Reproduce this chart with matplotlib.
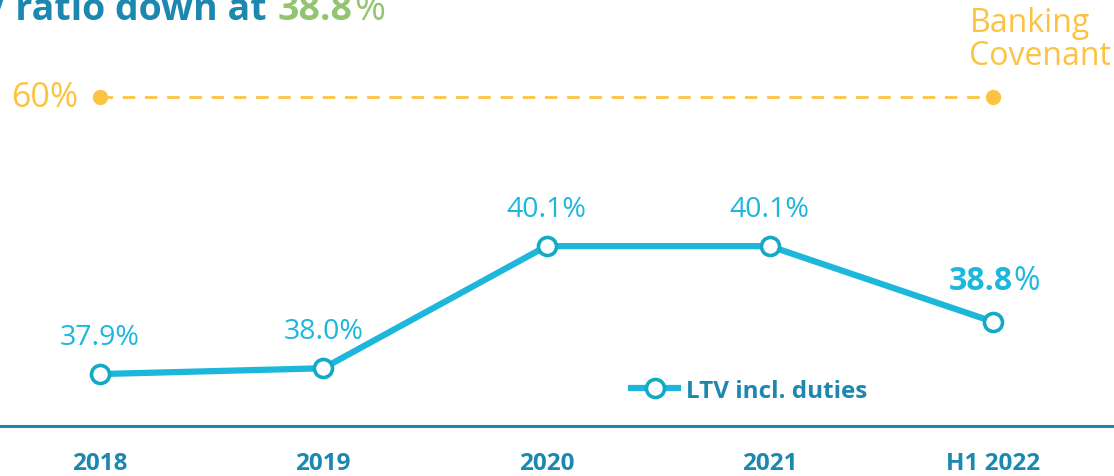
import matplotlib
matplotlib.use("Agg")
import matplotlib.pyplot as plt

plt.rcParams['font.family'] = ['Open Sans', 'DejaVu Sans']

# data
periods = ["2018", "2019", "2020", "2021", "H1 2022"]
ltv = [37.9, 38.0, 40.1, 40.1, 38.8]
covenant_x = [0, 4]
covenant = [60, 60]

BLUE = "#1C88B0"
CYAN = "#1DB7DC"
EDGE = "#14AAC6"
GREEN = "#93C470"
YELLOW = "#FCC343"

W, H = 1114, 477
fig = plt.figure(figsize=(W / 100, H / 100), dpi=100)
ax = fig.add_axes([0, 50 / H, 1, 427 / H])

x = list(range(len(periods)))
ax.plot(x, ltv, color=CYAN, lw=4.5, marker="o", ms=13, mfc="white",
        mec=EDGE, mew=2.6, solid_capstyle="butt", label="LTV incl. duties", zorder=3)

ax.set_xlim(-0.448, 4.542)
ax.set_ylim(37.007, 44.35)

for s in ["left", "right", "top"]:
    ax.spines[s].set_visible(False)
ax.spines["bottom"].set_color(BLUE)
ax.spines["bottom"].set_linewidth(2.2)
ax.set_yticks([])
ax.set_xticks(x)
ax.set_xticklabels(periods, fontsize=17.5, fontweight="bold", color=BLUE)
ax.tick_params(axis="x", length=0, pad=18)

# value labels
for xi, v in zip(x[:-1], ltv[:-1]):
    ax.annotate(f"{v:.1f}%", (xi, v), xytext=(0, 27), textcoords="offset points",
                ha="center", va="center", fontsize=20.5, color=CYAN)
ax.annotate(f"{ltv[-1]:.1f}", (x[-1], ltv[-1]), xytext=(14.5, 29.5), textcoords="offset points",
            ha="right", va="center", fontsize=23, fontweight="bold", color=CYAN)
ax.annotate("%", (x[-1], ltv[-1]), xytext=(15, 29.5), textcoords="offset points",
            ha="left", va="center", fontsize=23, color=CYAN)

# banking covenant line
ax2 = ax.twinx()
ax2.set_ylim(0, 60 * 427 / 329)
ax2.set_xlim(ax.get_xlim())
ax2.axis("off")
ax2.plot(covenant_x, covenant, color=YELLOW, lw=2, dashes=(4.5, 3.5))
ax2.plot(covenant_x, covenant, "o", color=YELLOW, ms=10, lw=0)
ax2.annotate("60%", (covenant_x[0], covenant[0]), xytext=(-16, 0), textcoords="offset points",
             ha="right", va="center", fontsize=24.5, color=YELLOW)
ax2.annotate("Banking\nCovenant", (covenant_x[1], covenant[1]), xytext=(-17, 42),
             textcoords="offset points", ha="left", va="center", fontsize=23,
             color=YELLOW, linespacing=1.0)

leg = ax.legend(loc="center left", bbox_to_anchor=(628 / W, 1 - 392 / H),
                bbox_transform=fig.transFigure, frameon=False, borderpad=0,
                borderaxespad=0, handlelength=2.2, handletextpad=0.2,
                prop={"size": 17.5, "weight": "bold"})
for t in leg.get_texts():
    t.set_color(BLUE)

# title (cut at the top-left like the reference)
yb = 1 - 20 / H
fig.text(276 / W, yb, "LTV ratio down at ", ha="right", va="baseline",
         fontsize=27, fontweight="bold", color=BLUE)
num = fig.text(278 / W, yb, "38.8", ha="left", va="baseline",
               fontsize=27, fontweight="bold", color=GREEN)
fig.canvas.draw()
bb = num.get_window_extent()
fig.text((bb.x1 + 1) / W, yb, "%", ha="left", va="baseline",
         fontsize=27, color=GREEN)

fig.savefig("out.png", dpi=100)
